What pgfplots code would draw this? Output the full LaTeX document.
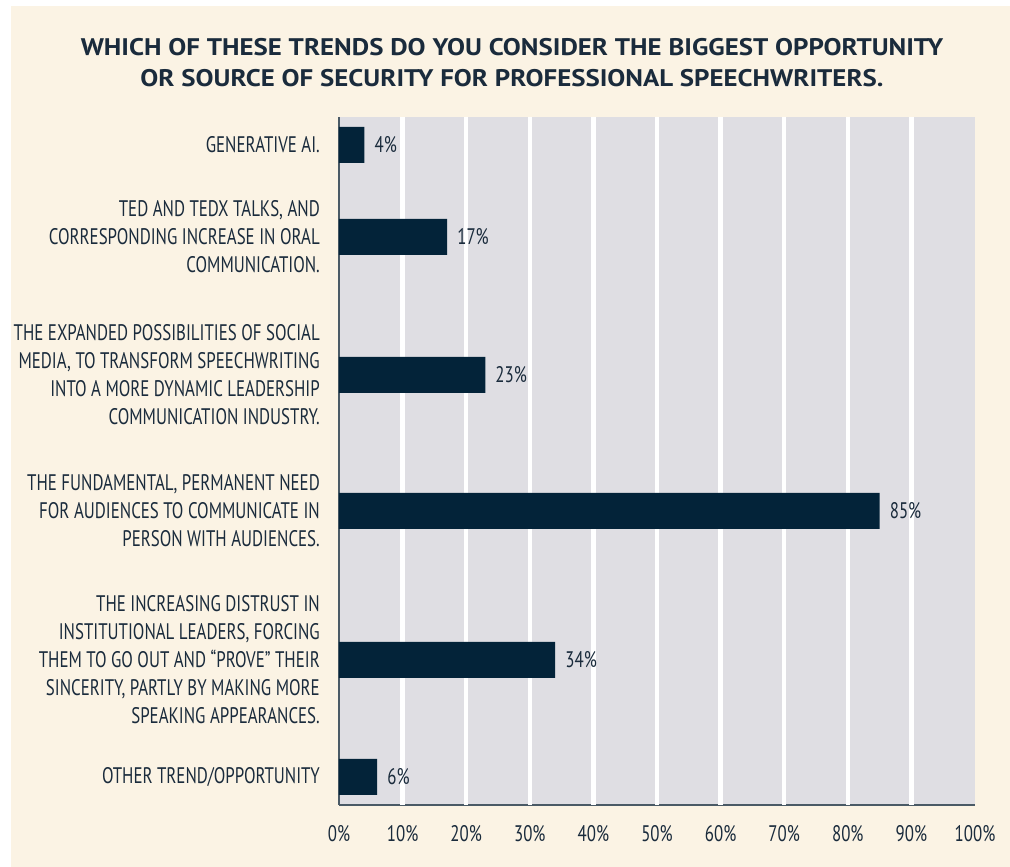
\documentclass[border=0pt]{standalone}
\usepackage{pgfplots}
\pgfplotsset{compat=1.18}
\usepackage{fontspec}
\setmainfont{PT Sans}[FakeStretch=0.75]
\newfontfamily\titlefont{PT Sans}[FakeStretch=1.12]
\definecolor{cream}{HTML}{FBF3E4}
\definecolor{plotgrey}{HTML}{DFDEE3}
\definecolor{navy}{HTML}{032339}
\definecolor{txt}{HTML}{1A2B3C}
\definecolor{axisc}{HTML}{4A5A66}
\newcommand\lab{\fontsize{22.5}{28}\selectfont}
\begin{document}
\begin{tikzpicture}[x=1pt,y=1pt]
\useasboundingbox (0,0) rectangle (1010,867);
\fill[white] (0,0) rectangle (1010,867);
\fill[cream] (11,0) rectangle (1010,861);
\node[align=center, font=\titlefont\bfseries\fontsize{24}{31}\selectfont, text=txt, inner sep=0pt] at (512,804.5)
 {WHICH OF THESE TRENDS DO YOU CONSIDER THE BIGGEST OPPORTUNITY\\OR SOURCE OF SECURITY FOR PROFESSIONAL SPEECHWRITERS.};
\begin{axis}[
  at={(339pt,62pt)}, anchor=south west,
  scale only axis, width=636pt, height=688pt,
  xmin=0, xmax=100, ymin=0, ymax=688,
  axis background/.style={fill=plotgrey},
  axis x line*=bottom, axis y line*=left,
  axis line style={-, draw=axisc, line width=1.6pt},
  xbar, bar width=36pt,
  major tick length=0pt,
  tick style={draw=none},
  xtick={0,10,...,100},
  xticklabels={0\%,10\%,20\%,30\%,40\%,50\%,60\%,70\%,80\%,90\%,100\%},
  extra x ticks={10,20,30,40,50,60,70,80,90},
  extra x tick labels={},
  extra x tick style={xmajorgrids=true, major grid style={white, line width=4.5pt}},
  xticklabel style={anchor=north, inner sep=0pt, yshift=-20pt, font=\lab, text=txt},
  ytick={28,145,294,430,568,660},
  yticklabels={
    {OTHER TREND/OPPORTUNITY},
    {THE INCREASING DISTRUST IN\\INSTITUTIONAL LEADERS, FORCING\\THEM TO GO OUT AND “PROVE” THEIR\\SINCERITY, PARTLY BY MAKING MORE\\SPEAKING APPEARANCES.},
    {THE FUNDAMENTAL, PERMANENT NEED\\FOR AUDIENCES TO COMMUNICATE IN\\PERSON WITH AUDIENCES.},
    {THE EXPANDED POSSIBILITIES OF SOCIAL\\MEDIA, TO TRANSFORM SPEECHWRITING\\INTO A MORE DYNAMIC LEADERSHIP\\COMMUNICATION INDUSTRY.},
    {TED AND TEDX TALKS, AND\\CORRESPONDING INCREASE IN ORAL\\COMMUNICATION.},
    {GENERATIVE AI.}},
  yticklabel style={anchor=east, align=right, inner sep=0pt, xshift=-19pt, font=\lab, text=txt},
  point meta=x,
  nodes near coords={\pgfmathprintnumber{\pgfplotspointmeta}\%},
  nodes near coords style={anchor=west, inner sep=0pt, xshift=10pt, font=\lab, text=txt, /pgf/number format/assume math mode=true},
  clip=false,
]
\addplot[fill=navy, draw=none] coordinates {(6,28) (34,145) (85,294) (23,430) (17,568) (4,660)};
\end{axis}
\end{tikzpicture}
\end{document}
